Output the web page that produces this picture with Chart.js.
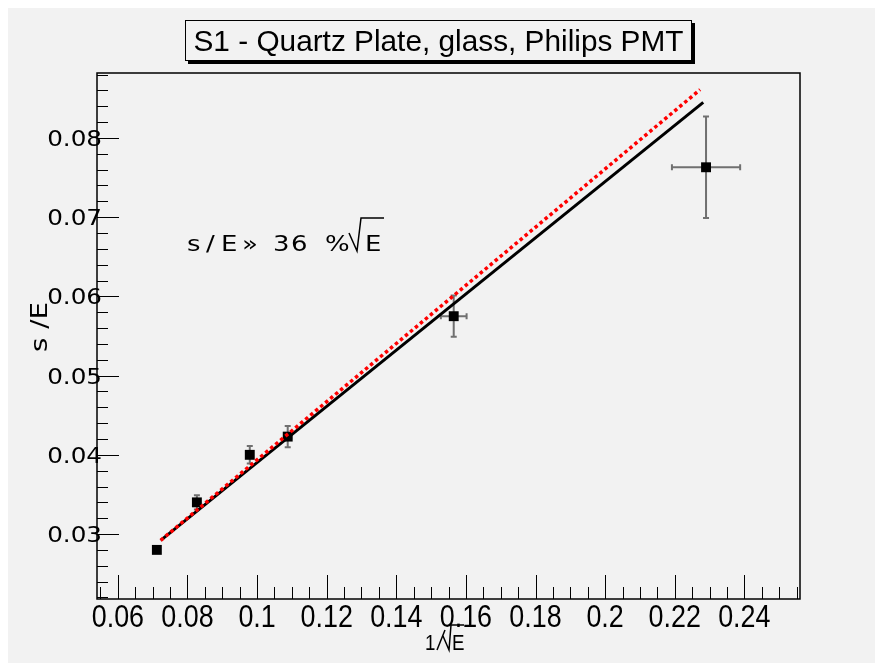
<!DOCTYPE html>
<html>
<head>
<meta charset="utf-8">
<script src="https://cdn.jsdelivr.net/npm/chart.js@4.4.1/dist/chart.umd.min.js"></script>
<style>
  html, body { margin: 0; padding: 0; background: #ffffff; }
  canvas { display: block; }
</style>
</head>
<body>
<canvas id="chartResolucion" width="875" height="663"></canvas>
<script>
// S1 - resolution vs 1/sqrt(E)
const invSqrtE = [0.0712, 0.0827, 0.0979, 0.1088, 0.1565, 0.2290];
const sigmaOverE = [0.0280, 0.0340, 0.0400, 0.0423, 0.0575, 0.0763];
const errInvSqrtE = [0.0004, 0.0005, 0.0006, 0.0010, 0.0037, 0.0098];
const errSigma = [0.0003, 0.0009, 0.0011, 0.00135, 0.0026, 0.0064];

// fit lines (ends of the drawn segments)
const fitBlackX = [0.0723, 0.2282];
const fitBlackY = [0.0292, 0.0845];
const fitRedX = [0.0723, 0.2273];
const fitRedY = [0.0292, 0.0861];

const xTicks = [0.06, 0.08, 0.10, 0.12, 0.14, 0.16, 0.18, 0.20, 0.22, 0.24];
const yTicks = [0.03, 0.04, 0.05, 0.06, 0.07, 0.08];

const bgGray = '#f2f2f2';
const helv = "'Liberation Sans', Arial, sans-serif";
const wideFont = "'DejaVu Sans', sans-serif";

const toXY = (xs, ys) => xs.map((x, i) => ({ x: x, y: ys[i] }));
const fmt = v => (+v.toFixed(2)).toString();

// text with a horizontal stretch / squeeze
function scaledText(ctx, text, x, y, sx, align) {
    ctx.save();
    ctx.translate(x, y);
    ctx.scale(sx, 1);
    ctx.textAlign = align;
    ctx.fillText(text, 0, 0);
    ctx.restore();
}

const rootStyle = {
    id: 'rootStyle',
    beforeDraw(chart) {
        const ctx = chart.ctx;
        ctx.save();
        ctx.fillStyle = '#ffffff';
        ctx.fillRect(0, 0, chart.width, chart.height);
        ctx.fillStyle = bgGray;
        ctx.fillRect(8, 8, chart.width - 8, chart.height - 8);
        ctx.restore();
    },
    beforeDatasetsDraw(chart) {
        const ctx = chart.ctx;
        const xs = chart.scales.x, ys = chart.scales.y;
        const a = chart.chartArea;
        ctx.save();
        // ticks inside the frame
        ctx.strokeStyle = '#000';
        ctx.lineWidth = 1;
        ctx.beginPath();
        for (let v = 0.055; v <= xs.max + 1e-9; v += 0.005) {
            const px = Math.round(xs.getPixelForValue(v)) + 0.5;
            const major = xTicks.some(t => Math.abs(t - v) < 1e-6);
            ctx.moveTo(px, a.bottom);
            ctx.lineTo(px, a.bottom - (major ? 24 : 12));
        }
        for (let v = 0.022; v <= ys.max + 1e-9; v += 0.002) {
            const py = Math.round(ys.getPixelForValue(v)) + 0.5;
            const major = yTicks.some(t => Math.abs(t - v) < 1e-6);
            ctx.moveTo(a.left, py);
            ctx.lineTo(a.left + (major ? 22 : 11), py);
        }
        ctx.stroke();

        // tick labels
        ctx.fillStyle = '#000';
        ctx.textBaseline = 'alphabetic';
        ctx.font = '32px ' + helv;
        xs.ticks.forEach(t => {
            scaledText(ctx, fmt(t.value), xs.getPixelForValue(t.value), 627, 0.84, 'center');
        });
        ctx.font = '22px ' + wideFont;
        ys.ticks.forEach(t => {
            scaledText(ctx, fmt(t.value), a.left + 5, ys.getPixelForValue(t.value) + 8, 1.12, 'right');
        });

        // error bars
        ctx.strokeStyle = '#707070';
        ctx.lineWidth = 2;
        ctx.beginPath();
        invSqrtE.forEach((x, i) => {
            const px = xs.getPixelForValue(x), py = ys.getPixelForValue(sigmaOverE[i]);
            const x0 = xs.getPixelForValue(x - errInvSqrtE[i]), x1 = xs.getPixelForValue(x + errInvSqrtE[i]);
            const y0 = ys.getPixelForValue(sigmaOverE[i] - errSigma[i]), y1 = ys.getPixelForValue(sigmaOverE[i] + errSigma[i]);
            ctx.moveTo(x0, py); ctx.lineTo(x1, py);
            ctx.moveTo(x0, py - 3); ctx.lineTo(x0, py + 3);
            ctx.moveTo(x1, py - 3); ctx.lineTo(x1, py + 3);
            ctx.moveTo(px, y0); ctx.lineTo(px, y1);
            ctx.moveTo(px - 3, y0); ctx.lineTo(px + 3, y0);
            ctx.moveTo(px - 3, y1); ctx.lineTo(px + 3, y1);
        });
        ctx.stroke();
        ctx.restore();
    },
    afterDraw(chart) {
        const ctx = chart.ctx;
        const a = chart.chartArea;
        ctx.save();
        // frame
        ctx.strokeStyle = '#000';
        ctx.lineWidth = 1.5;
        ctx.strokeRect(a.left, a.top, a.right - a.left, a.bottom - a.top);

        // title box with shadow
        ctx.fillStyle = '#000';
        ctx.fillRect(188, 23, 507, 41);
        ctx.fillStyle = bgGray;
        ctx.fillRect(185, 20, 507, 41);
        ctx.lineWidth = 1;
        ctx.strokeRect(185.5, 20.5, 506, 40);
        ctx.fillStyle = '#000';
        ctx.font = '29px ' + helv;
        ctx.textBaseline = 'alphabetic';
        const title = 'S1 - Quartz Plate, glass, Philips PMT';
        const tw = ctx.measureText(title).width;
        scaledText(ctx, title, 438.5, 51, 490 / tw, 'center');

        // annotation
        ctx.font = '22px ' + wideFont;
        const pieces = [['s', 187], ['/', 206], ['E', 221], ['\u00bb', 242], ['3', 273], ['6', 291], ['%', 325]];
        pieces.forEach(p => scaledText(ctx, p[0], p[1], 251, 1.18, 'left'));
        ctx.lineWidth = 1.5;
        ctx.beginPath();
        ctx.moveTo(349, 233); ctx.lineTo(357, 251);
        ctx.lineTo(361, 218); ctx.lineTo(384, 218);
        ctx.stroke();
        scaledText(ctx, 'E', 365, 251, 1.18, 'left');

        // x axis title
        ctx.font = '22px ' + helv;
        scaledText(ctx, '1', 425, 650, 0.85, 'left');
        ctx.beginPath();
        ctx.moveTo(437, 650); ctx.lineTo(445, 630);
        ctx.moveTo(443, 636); ctx.lineTo(449, 650);
        ctx.lineTo(451, 625); ctx.lineTo(464, 625);
        ctx.stroke();
        scaledText(ctx, 'E', 452, 650, 0.85, 'left');

        // y axis title
        ctx.translate(47, 327);
        ctx.rotate(-Math.PI / 2);
        ctx.font = '23px ' + wideFont;
        scaledText(ctx, 's /E', 0, 0, 1.2, 'center');
        ctx.restore();
    }
};

new Chart(document.getElementById('chartResolucion'), {
    type: 'scatter',
    data: {
        datasets: [{
            label: 'fit (red)',
            data: toXY(fitRedX, fitRedY),
            showLine: true,
            borderColor: '#ff0000',
            borderWidth: 3.5,
            borderDash: [3.5, 3],
            pointRadius: 0
        }, {
            label: 'fit',
            data: toXY(fitBlackX, fitBlackY),
            showLine: true,
            borderColor: '#000000',
            borderWidth: 3,
            pointRadius: 0
        }, {
            label: 'S1',
            data: toXY(invSqrtE, sigmaOverE),
            pointStyle: 'rect',
            pointRadius: 7,
            backgroundColor: '#000000',
            borderColor: '#000000',
            borderWidth: 0
        }]
    },
    options: {
        responsive: false,
        animation: false,
        devicePixelRatio: 1,
        layout: { padding: { left: 0, top: 73, right: 75, bottom: 0 } },
        plugins: {
            legend: { display: false },
            tooltip: { enabled: false }
        },
        scales: {
            x: {
                type: 'linear',
                min: 0.054,
                max: 0.256,
                border: { display: false },
                grid: { display: false, drawTicks: false },
                afterBuildTicks: s => { s.ticks = xTicks.map(v => ({ value: v })); },
                afterFit: s => { s.height = 64; },
                ticks: { display: false }
            },
            y: {
                type: 'linear',
                min: 0.0218,
                max: 0.0882,
                border: { display: false },
                grid: { display: false, drawTicks: false },
                afterBuildTicks: s => { s.ticks = yTicks.map(v => ({ value: v })); },
                afterFit: s => { s.width = 97; },
                ticks: { display: false }
            }
        }
    },
    plugins: [rootStyle]
});
</script>
</body>
</html>
